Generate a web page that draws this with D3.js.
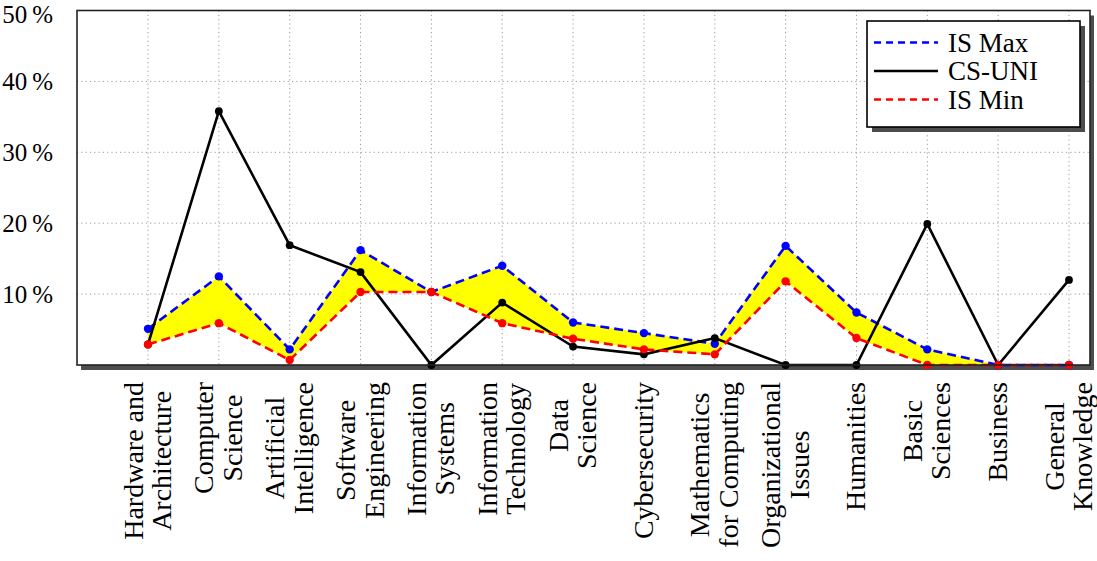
<!DOCTYPE html>
<html>
<head>
<meta charset="utf-8">
<script src="https://cdn.jsdelivr.net/npm/d3@7"></script>
<style>
  body { margin: 0; background: #fff; }
  svg { display: block; font-family: "Liberation Serif", "DejaVu Serif", serif; }
</style>
</head>
<body>
<div id="chart-area"></div>
<script>
// Category labels (one entry per line of the label)
var categories = [
    ["Hardware and", "Architecture"],
    ["Computer", "Science"],
    ["Artificial", "Intelligence"],
    ["Software", "Engineering"],
    ["Information", "Systems"],
    ["Information", "Technology"],
    ["Data", "Science"],
    ["Cybersecurity"],
    ["Mathematics", "for Computing"],
    ["Organizational", "Issues"],
    ["Humanities"],
    ["Basic", "Sciences"],
    ["Business"],
    ["General", "Knowledge"]
];

// Series values (%)
var isMax = [5.1, 12.5, 2.2, 16.2, 10.3, 14.0, 6.0, 4.5, 3.0, 16.8, 7.4, 2.2, 0, 0];
var csUni = [2.9, 35.8, 16.9, 13.1, 0, 8.8, 2.6, 1.5, 3.8, 0, 0, 19.9, 0, 12.0];
var isMin = [2.9, 5.9, 0.7, 10.3, 10.3, 5.9, 3.7, 2.2, 1.5, 11.8, 3.8, 0, 0, 0];

// Y tick values
var yTicks = [10, 20, 30, 40, 50];

var W = 1097, H = 561;
var plot = { left: 77, right: 1090, top: 10.5, bottom: 365 };

var svg = d3.select("#chart-area")
    .append("svg")
        .attr("width", W)
        .attr("height", H);

var keys = categories.map(function(c){ return c.join(" "); });

// X scale: one point per category
var x = d3.scalePoint()
    .domain(keys)
    .range([148, 1069]);

// Y scale
var y = d3.scaleLinear()
    .domain([0, 50])
    .range([plot.bottom, plot.top]);

// Plot shadow + background
svg.append("rect")
    .attr("x", plot.left + 4)
    .attr("y", plot.top + 5)
    .attr("width", plot.right - plot.left)
    .attr("height", plot.bottom - plot.top)
    .attr("fill", "#4d4d4d");
svg.append("rect")
    .attr("x", plot.left)
    .attr("y", plot.top)
    .attr("width", plot.right - plot.left)
    .attr("height", plot.bottom - plot.top)
    .attr("fill", "#fff");

// Gridlines (dotted)
var grid = svg.append("g")
    .attr("stroke", "#9a9a9a")
    .attr("stroke-width", 1)
    .attr("stroke-dasharray", "1.2,3.1");
grid.selectAll("line.v").data(keys).enter()
    .append("line")
    .attr("x1", function(d){ return x(d); })
    .attr("x2", function(d){ return x(d); })
    .attr("y1", plot.top)
    .attr("y2", plot.bottom);
grid.selectAll("line.h").data(yTicks.filter(function(t){ return t < 50; })).enter()
    .append("line")
    .attr("x1", plot.left)
    .attr("x2", plot.right)
    .attr("y1", function(d){ return y(d); })
    .attr("y2", function(d){ return y(d); });

// Yellow band between IS Max and IS Min
var band = d3.area()
    .x(function(d, i){ return x(keys[i]); })
    .y0(function(d, i){ return y(isMin[i]); })
    .y1(function(d, i){ return y(isMax[i]); });
svg.append("path")
    .datum(isMax)
    .attr("fill", "#ffff00")
    .attr("d", band);

var line = d3.line()
    .x(function(d, i){ return x(keys[i]); })
    .y(function(d){ return y(d); });

var series = [
    { name: "IS Max", values: isMax, color: "#0000ff", dash: "9,5", r: 4.2 },
    { name: "CS-UNI", values: csUni, color: "#000000", dash: null, r: 3.9 },
    { name: "IS Min", values: isMin, color: "#ff0000", dash: "9,5", r: 4.2 }
];

series.forEach(function(s){
    svg.append("path")
        .datum(s.values)
        .attr("fill", "none")
        .attr("stroke", s.color)
        .attr("stroke-width", 2.6)
        .attr("stroke-dasharray", s.dash)
        .attr("d", line);
    svg.append("g").selectAll("circle")
        .data(s.values).enter()
        .append("circle")
        .attr("cx", function(d, i){ return x(keys[i]); })
        .attr("cy", function(d){ return y(d); })
        .attr("r", s.r)
        .attr("fill", s.color);
});

// Frame
svg.append("rect")
    .attr("x", plot.left)
    .attr("y", plot.top)
    .attr("width", plot.right - plot.left)
    .attr("height", plot.bottom - plot.top)
    .attr("fill", "none")
    .attr("stroke", "#222")
    .attr("stroke-width", 1.6);

// Y tick labels
svg.append("g").selectAll("text")
    .data(yTicks).enter()
    .append("text")
    .attr("x", 53)
    .attr("y", function(d){ return y(d); })
    .attr("dy", function(d){ return d === 50 ? "0.48em" : "0.34em"; })
    .attr("text-anchor", "end")
    .attr("font-size", "25px")
    .text(function(d){ return d + "\u2009%"; });

// X labels: rotated, centred lines, ending just under the axis
var lineGap = 28.5, labelSize = 28;
var xLabels = svg.append("g").selectAll("g")
    .data(categories).enter()
    .append("g")
    .attr("transform", function(d, i){
        var b0 = x(keys[i]) + 0.35 * labelSize - (d.length - 1) * lineGap / 2 - 1;
        return "translate(" + b0 + ",382) rotate(-90)";
    });
xLabels.each(function(lines){
    var g = d3.select(this);
    var texts = lines.map(function(l, j){
        return g.append("text")
            .attr("y", j * lineGap)
            .attr("text-anchor", "middle")
            .attr("font-size", labelSize + "px")
            .text(l);
    });
    var maxW = d3.max(texts, function(t){ return t.node().getComputedTextLength(); });
    texts.forEach(function(t){ t.attr("x", -maxW / 2); });
});

// Legend
var legend = svg.append("g");
legend.append("rect")
    .attr("x", 872).attr("y", 26)
    .attr("width", 213).attr("height", 106)
    .attr("fill", "#4d4d4d");
legend.append("rect")
    .attr("x", 867).attr("y", 21)
    .attr("width", 213).attr("height", 106)
    .attr("fill", "#fff")
    .attr("stroke", "#000")
    .attr("stroke-width", 1.6);

series.forEach(function(s, i){
    var row = legend.append("g")
        .attr("transform", "translate(0," + (i * 28.5) + ")");
    row.append("line")
        .attr("x1", 874).attr("x2", 938)
        .attr("y1", 42.5).attr("y2", 42.5)
        .attr("stroke", s.color)
        .attr("stroke-width", 2.6)
        .attr("stroke-dasharray", s.dash ? "7,5" : null);
    row.append("text")
        .attr("x", 948)
        .attr("y", 51.5)
        .attr("font-size", "27px")
        .text(s.name);
});
</script>
</body>
</html>
